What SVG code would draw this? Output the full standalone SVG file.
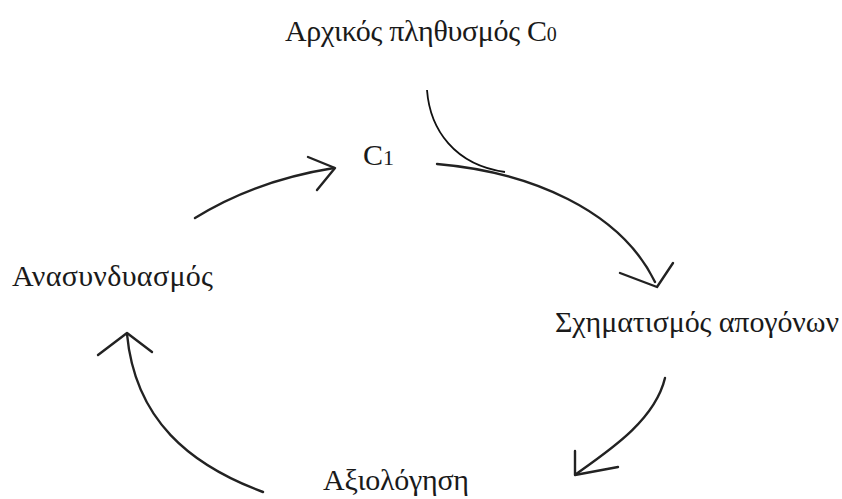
<svg xmlns="http://www.w3.org/2000/svg" width="842" height="499" viewBox="0 0 842 499">
<style>
.t{font-family:"Liberation Serif","Times New Roman",serif;font-size:30px;fill:#1a1a1a}
.hand{fill:none;stroke:#222;stroke-width:2.4;stroke-linecap:round;stroke-linejoin:round}
.arc{fill:none;stroke:#111;stroke-width:1.8}
</style>
<rect width="842" height="499" fill="#fff"/>
<g id="node-c0"><text class="t" x="285" y="41"><tspan textLength="262" lengthAdjust="spacing">Αρχικός πληθυσμός C</tspan><tspan font-size="20">0</tspan></text></g>
<g id="node-c1"><text class="t" x="363" y="165" font-size="32">C<tspan font-size="22">1</tspan></text></g>
<g id="node-offspring"><text class="t" x="555" y="332" textLength="284" lengthAdjust="spacing">Σχηματισμός απογόνων</text></g>
<g id="node-eval"><text class="t" x="323" y="490" textLength="146" lengthAdjust="spacing">Αξιολόγηση</text></g>
<g id="node-recomb"><text class="t" x="12" y="286" textLength="201" lengthAdjust="spacing">Ανασυνδυασμός</text></g>
<g id="connectors">
<path class="arc" d="M427,90 C430,130 455,165 505,172"/>
<path class="hand" d="M437,164 C530,172 620,210 655,282"/>
<polyline class="hand" points="620,273 657,287 673,263"/>
<path class="hand" d="M665,378 C655,420 610,450 576,474"/>
<polyline class="hand" points="575,451 575,475 618,467"/>
<path class="hand" d="M263,492 C190,465 135,420 127,334"/>
<polyline class="hand" points="98,355 127,333 152,352"/>
<path class="hand" d="M195,218 C240,190 290,175 334,168"/>
<polyline class="hand" points="308,157 335,168 317,190"/>
</g>
</svg>
